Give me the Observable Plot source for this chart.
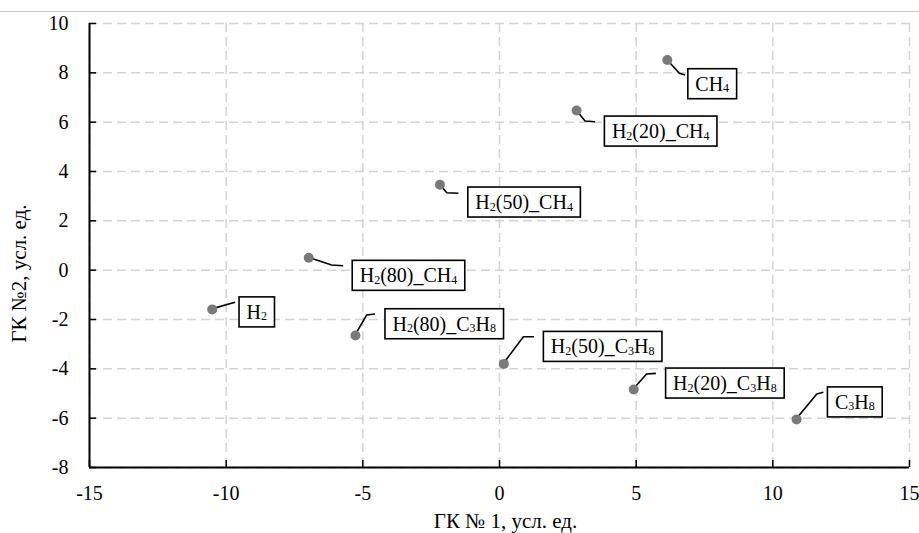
<!DOCTYPE html>
<html><head><meta charset="utf-8">
<script src="https://cdn.jsdelivr.net/npm/d3@7"></script>
<script src="https://cdn.jsdelivr.net/npm/@observablehq/plot@0.6"></script>
<style>
body{margin:0;background:#fff}
#wrap{position:relative;width:919px;height:533px}
#topline{position:absolute;left:0;top:11px;width:919px;height:1px;background:#c6c6c6}
svg text{font-family:"Liberation Serif","Times New Roman",serif !important}
svg g[aria-label="x-axis tick label"], svg g[aria-label="y-axis tick label"]{font-size:20px !important;font-family:"Liberation Serif",serif !important}
</style>
</head><body><div id="wrap"><div id="topline"></div></div>
<script>
// ---- data ----
const names = ["CH4", "H2(20)_CH4", "H2(50)_CH4", "H2(80)_CH4", "H2", "H2(80)_C3H8", "H2(50)_C3H8", "H2(20)_C3H8", "C3H8"];
const pc1 = [6.14, 2.82, -2.18, -6.98, -10.51, -5.27, 0.16, 4.91, 10.87];
const pc2 = [8.52, 6.47, 3.46, 0.5, -1.59, -2.65, -3.8, -4.84, -6.05];
const xTicks = [-15, -10, -5, 0, 5, 10, 15];
const yTicks = [-8, -6, -4, -2, 0, 2, 4, 6, 8, 10];
const xTitle = "ГК № 1, усл. ед.";
const yTitle = "ГК №2, усл. ед.";

// ---- label callout layout (pixel offsets from each point) ----
const callouts = [
  {ex: 12.6, ey: 13.8, lx: 18.3, ly: 15.5, bx: 21, by: 24.2},
  {ex: 9, ey: 11, lx: 19, ly: 11.7, bx: 28.3, by: 21},
  {ex: 7.4, ey: 8.4, lx: 19, ly: 9, bx: 28.4, by: 17.7},
  {ex: 23.4, ey: 7.7, lx: 35, ly: 8.4, bx: 44, by: 18},
  {ex: 23.3, ey: -6.7, lx: 23.3, ly: -6.7, bx: 27.3, by: 3},
  {ex: 11.7, ey: -20, lx: 20, ly: -21, bx: 30, by: -11.3},
  {ex: 20, ey: -26.6, lx: 30.7, ly: -26.6, bx: 40, by: -17},
  {ex: 13.4, ey: -15, lx: 22.7, ly: -15.7, bx: 32.4, by: -6},
  {ex: 20.7, ey: -25, lx: 27.3, ly: -26.7, bx: 31.3, by: -17}
];

const W = 919, H = 533, mL = 89, mR = 10, mT = 23, mB = 66;
const FONT = "Liberation Serif";
const rows = names.map((n, i) => ({name: n, x: pc1[i], y: pc2[i]}));
const grid = {stroke: "#d4d4d4", strokeOpacity: 1, strokeWidth: 1.5, strokeDasharray: "9,5"};

const chart = Plot.plot({
  width: W, height: H,
  marginLeft: mL, marginRight: mR, marginTop: mT, marginBottom: mB,
  style: {fontFamily: FONT, fontSize: "20px", background: "white", color: "black"},
  x: {domain: [-15, 15]},
  y: {domain: [-8, 10]},
  marks: [
    Plot.gridX(xTicks, grid),
    Plot.gridY(yTicks, grid),
    Plot.axisX(xTicks, {tickSize: 0, tickPadding: 18, label: null, fontSize: 20, fontFamily: FONT, tickFormat: d => String(d)}),
    Plot.axisY(yTicks, {tickSize: 0, tickPadding: 21, label: null, fontSize: 20, fontFamily: FONT, tickFormat: d => String(d)}),
    Plot.tickX(xTicks, {x: d => d, stroke: "black", strokeWidth: 1.5, insetTop: (H - mT - mB) - 7}),
    Plot.tickY(yTicks, {y: d => d, stroke: "black", strokeWidth: 1.5, insetRight: (W - mL - mR) - 7}),
    Plot.ruleX([-15], {stroke: "black", strokeWidth: 2}),
    Plot.ruleY([-8], {stroke: "black", strokeWidth: 2}),
    Plot.dot(rows, {x: "x", y: "y", r: 5, fill: "#7a7a7a"}),
    Plot.text([xTitle], {text: d => d, frameAnchor: "bottom", dy: 54, dx: 6, fontSize: 21, fontFamily: FONT, textAnchor: "middle", lineAnchor: "middle"}),
    Plot.text([yTitle], {text: d => d, frameAnchor: "left", rotate: -90, dx: -70, dy: 28, fontSize: 21, fontFamily: FONT, textAnchor: "middle", lineAnchor: "middle"})
  ]
});
document.getElementById("wrap").appendChild(chart);

// ---- callout labels drawn with the plot's scales ----
const sx = chart.scale("x"), sy = chart.scale("y");
const svg = d3.select(chart);
const dotG = chart.querySelector('g[aria-label="dot"]');
const leaders = d3.select(chart.insertBefore(document.createElementNS("http://www.w3.org/2000/svg", "g"), dotG));
const labels = svg.append("g")
  .attr("font-family", FONT).attr("font-size", 20).attr("text-anchor", "start")
  .style("font-size", "20px").style("text-anchor", "start");

function segments(s) {
  const out = [];
  for (let i = 0; i < s.length; i++) {
    const ch = s[i];
    const sub = /[0-9]/.test(ch) && i > 0 && /[A-Za-z]/.test(s[i - 1]);
    if (out.length && out[out.length - 1].sub === sub) out[out.length - 1].text += ch;
    else out.push({text: ch, sub});
  }
  return out;
}

rows.forEach((r, i) => {
  const c = callouts[i];
  const px = sx.apply(r.x), py = sy.apply(r.y);
  leaders.append("path")
    .attr("d", `M${px},${py}L${px + c.ex},${py + c.ey}L${px + c.lx},${py + c.ly}`)
    .attr("fill", "none").attr("stroke", "black").attr("stroke-width", 1.6);
  const g = labels.append("g");
  const rect = g.append("rect");
  const t = g.append("text").attr("x", px + c.bx + 7.5).attr("y", py + c.by + 7);
  let prevSub = false;
  segments(r.name).forEach(seg => {
    const ts = t.append("tspan").text(seg.text);
    if (seg.sub) ts.style("font-size", "12px").attr("dy", 1.5);
    else if (prevSub) ts.attr("dy", -1.5);
    prevSub = seg.sub;
  });
  const w = t.node().getBBox().width;
  rect.attr("x", px + c.bx).attr("y", py + c.by - 15).attr("width", w + 15).attr("height", 30)
    .attr("fill", "white").attr("stroke", "black").attr("stroke-width", 1.6);
});
</script>
</body></html>
